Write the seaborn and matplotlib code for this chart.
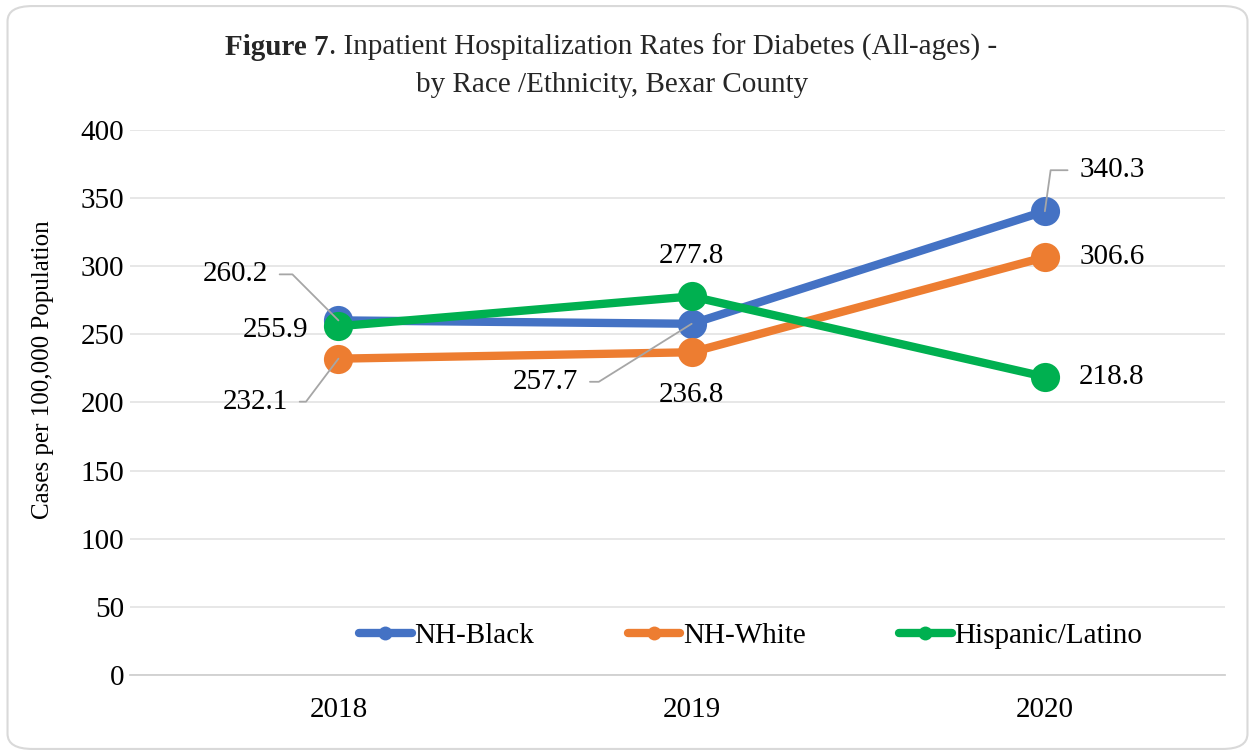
import matplotlib
matplotlib.use("Agg")
import matplotlib.pyplot as plt
from matplotlib.lines import Line2D
from matplotlib.patches import FancyBboxPatch
import seaborn as sns
import pandas as pd

years = ["2018", "2019", "2020"]
groups = ["NH-Black", "NH-White", "Hispanic/Latino"]
nh_black = [260.2, 257.7, 340.3]
nh_white = [232.1, 236.8, 306.6]
hispanic = [255.9, 277.8, 218.8]
colors = ["#4472C4", "#ED7D31", "#00B050"]

df = pd.DataFrame({
    "Year": years * 3,
    "Group": [g for g in groups for _ in years],
    "Rate": nh_black + nh_white + hispanic,
})

sns.set_style("white")
plt.rcParams["font.family"] = ["Liberation Serif", "DejaVu Serif"]

fig = plt.figure(figsize=(12.55, 7.55), dpi=100)
fig.patches.append(FancyBboxPatch((0.006, 0.008), 0.988, 0.984,
                                  boxstyle="round,pad=0,rounding_size=0.02",
                                  transform=fig.transFigure, fc="white",
                                  ec="#d9d9d9", lw=1.5, zorder=-10))
ax = fig.add_axes([0.1036, 0.106, 0.8725, 0.722])
ax.set_facecolor("none")

sns.lineplot(data=df, x="Year", y="Rate", hue="Group", palette=colors,
             marker="o", markersize=21, markeredgewidth=0, linewidth=6,
             legend=False, ax=ax, zorder=3)

ax.set_ylim(0, 400)
ax.set_yticks(range(0, 401, 50))
ax.set_xlim(-0.59, 2.51)
ax.grid(axis="y", color="#e3e3e3", lw=1.2)
ax.set_axisbelow(True)
for s in ["top", "right", "left"]:
    ax.spines[s].set_visible(False)
ax.spines["bottom"].set_color("#d0d0d0")
ax.spines["bottom"].set_linewidth(1.3)
ax.tick_params(axis="y", length=0, pad=4, labelsize=21, labelcolor="black")
ax.tick_params(axis="x", length=0, pad=16, labelsize=21, labelcolor="black")
ax.set_xlabel("")
ax.set_ylabel("Cases per 100,000 Population", fontsize=18, color="black")
ax.yaxis.set_label_coords(-0.069, 0.56)

# data labels: (series, index, offset in pixels, leader angle or None)
labels = [
    (nh_black, 0, (-103, 46), -45),
    (hispanic, 0, (-63, -4), None),
    (nh_white, 0, (-83, -43), 53),
    (hispanic, 1, (0, 40), None),
    (nh_black, 1, (-146, -58), 32),
    (nh_white, 1, (0, -43), None),
    (nh_black, 2, (67, 41), 82),
    (nh_white, 2, (67, 0), None),
    (hispanic, 2, (67, 0), None),
]
for series, i, off, ang in labels:
    kw = {}
    if ang is not None:
        kw["arrowprops"] = dict(arrowstyle="-", color="#a6a6a6", lw=1.3,
                                shrinkA=6, shrinkB=0,
                                connectionstyle=f"angle,angleA=0,angleB={ang},rad=0")
    ax.annotate(f"{series[i]:.1f}", xy=(i, series[i]), xytext=off,
                textcoords="offset pixels", ha="center", va="center",
                fontsize=21, color="black", zorder=5, **kw)

handles = [Line2D([], [], color=c, lw=6, marker="o", markersize=10,
                  markeredgewidth=0) for c in colors]
ax.legend(handles, groups, loc="center", bbox_to_anchor=(0.567, 0.072),
          ncol=3, frameon=False, fontsize=21, handlelength=1.8,
          handletextpad=0.1, columnspacing=3.2, labelcolor="black")

t1 = fig.text(225 / 1255, 1 - 55 / 755, "Figure 7", fontsize=21,
              fontweight="bold", ha="left", va="baseline")
ax.annotate(". Inpatient Hospitalization Rates for Diabetes (All-ages) -",
            xy=(1, 0), xycoords=t1, xytext=(0, 0), textcoords="offset points",
            fontsize=21, ha="left", va="bottom", annotation_clip=False)
fig.text(612 / 1255, 1 - 92 / 755, "by Race /Ethnicity, Bexar County",
         fontsize=21, ha="center", va="baseline")

fig.savefig("out.png", dpi=100)
